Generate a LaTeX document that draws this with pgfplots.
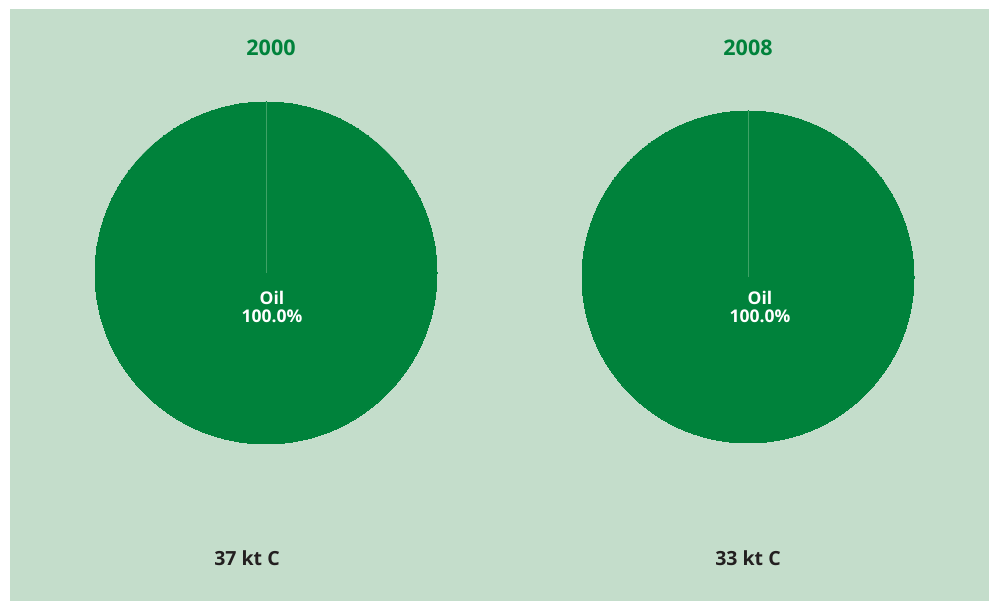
\documentclass[border=0pt]{standalone}
\usepackage{pgfplots}
\pgfplotsset{compat=1.18}
\usepackage{fontspec}
\setmainfont{Open Sans}
\definecolor{bgc}{HTML}{C4DDCB}
\definecolor{piec}{HTML}{00823B}
\definecolor{linec}{HTML}{3FA266}
\definecolor{txt}{HTML}{231F20}
\pgfplotsset{base/.style={
  width=989bp, height=601bp, scale only axis,
  xmin=0, xmax=989, ymin=0, ymax=601,
  hide axis, clip=false}}
\begin{document}
\begin{tikzpicture}
\begin{axis}[base]
\fill[white] (axis cs:0,0) rectangle (axis cs:989,601);
\fill[bgc] (axis cs:10,0) rectangle (axis cs:989,592);
% pies (100% Oil each)
\addplot[piec, only marks, mark=*, mark size=171bp, mark options={fill=piec, draw=piec, line width=0pt}] coordinates {(266,328)};
\addplot[piec, only marks, mark=*, mark size=166bp, mark options={fill=piec, draw=piec, line width=0pt}] coordinates {(748,324)};
\end{axis}
\begin{axis}[base]
\addplot[draw=linec, line width=0.6bp] coordinates {(266,328) (266,499)};
\addplot[draw=linec, line width=0.6bp] coordinates {(748,324) (748,490)};
% titles
\node[text=piec, font=\bfseries\fontsize{21.5bp}{25bp}\selectfont] at (axis cs:271,553) {2000};
\node[text=piec, font=\bfseries\fontsize{21.5bp}{25bp}\selectfont] at (axis cs:748,553) {2008};
% labels
\node[text=white, font=\bfseries\fontsize{17.5bp}{18.5bp}\selectfont, align=center] at (axis cs:272,294) {Oil\\100.0\%};
\node[text=white, font=\bfseries\fontsize{17.5bp}{18.5bp}\selectfont, align=center] at (axis cs:760,294) {Oil\\100.0\%};
% totals
\node[text=txt, font=\bfseries\fontsize{19.5bp}{22bp}\selectfont] at (axis cs:247,43) {37 kt C};
\node[text=txt, font=\bfseries\fontsize{19.5bp}{22bp}\selectfont] at (axis cs:748,43) {33 kt C};
\end{axis}
\end{tikzpicture}
\end{document}
